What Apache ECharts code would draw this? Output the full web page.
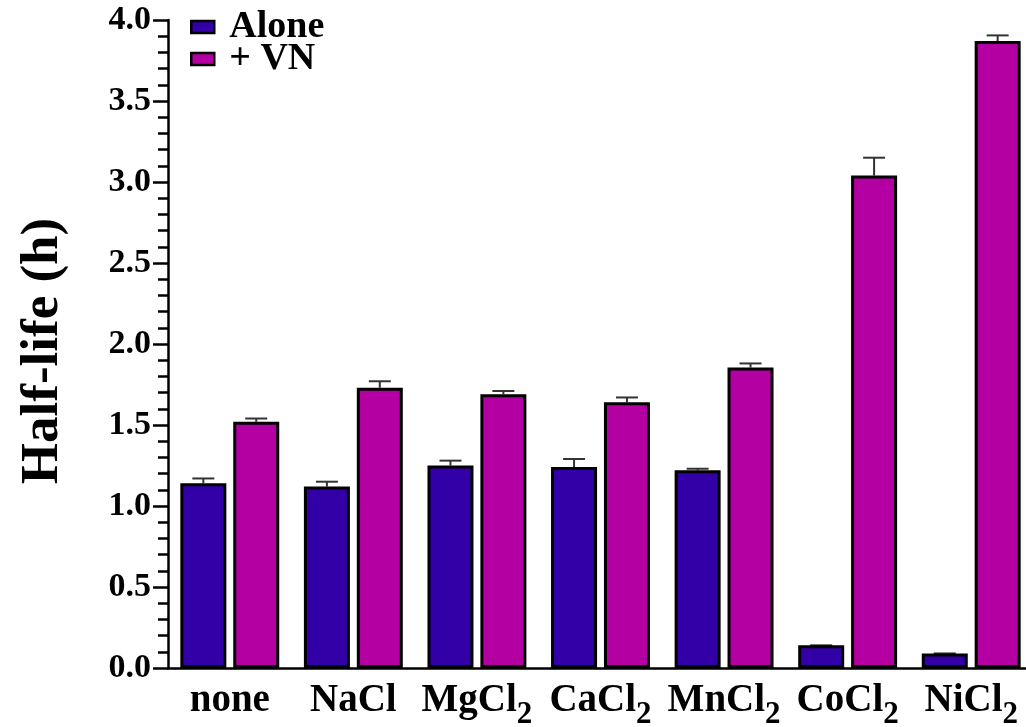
<!DOCTYPE html>
<html>
<head>
<meta charset="utf-8">
<script src="https://cdn.jsdelivr.net/npm/echarts@6/dist/echarts.min.js"></script>
<style>html,body{margin:0;padding:0;background:#fff}#c{width:1026px;height:727px}</style>
</head>
<body>
<div id="c"></div>
<script>
const categories = ['none', 'NaCl', 'MgCl2', 'CaCl2', 'MnCl2', 'CoCl2', 'NiCl2'];
const alone = [1.14, 1.12, 1.25, 1.24, 1.22, 0.14, 0.09];
const aloneErr = [0.03, 0.03, 0.03, 0.05, 0.01, 0, 0];
const vn = [1.52, 1.73, 1.69, 1.64, 1.855, 3.04, 3.87];
const vnErr = [0.02, 0.04, 0.02, 0.03, 0.025, 0.11, 0.035];
const yTicks = ['0.0', '0.5', '1.0', '1.5', '2.0', '2.5', '3.0', '3.5', '4.0'];

const FONT = '"Liberation Serif", "Times New Roman", serif';
const BAR_W = 46;
const GAP = 0.15;

const chart = echarts.init(document.getElementById('c'));

function errSeries(vals, errs, sign) {
  return {
    type: 'custom',
    z: 1,
    silent: true,
    data: vals.map((v, i) => [i, v, errs[i]]),
    encode: { x: 0, y: 1 },
    renderItem: function (params, api) {
      const off = sign * (BAR_W / 2 + BAR_W * GAP / 2);
      const base = api.coord([api.value(0), api.value(1)]);
      const top = api.coord([api.value(0), api.value(1) + api.value(2)]);
      const x = base[0] + off;
      const cap = 11;
      const st = { stroke: '#333', lineWidth: 2 };
      return {
        type: 'group',
        children: [
          { type: 'line', shape: { x1: x, y1: base[1], x2: x, y2: top[1] }, style: st },
          { type: 'line', shape: { x1: x - cap, y1: top[1], x2: x + cap, y2: top[1] }, style: st }
        ]
      };
    }
  };
}

chart.setOption({
  animation: false,
  backgroundColor: '#fff',
  grid: { left: 168, top: 20, bottom: 59, width: 865, containLabel: false, outerBoundsMode: 'none' },
  legend: {
    data: ['Alone', '+ VN'],
    orient: 'vertical',
    left: 185,
    top: 3,
    icon: 'rect',
    itemWidth: 23,
    itemHeight: 12,
    itemGap: -6,
    textStyle: { fontFamily: FONT, fontWeight: 'bold', fontSize: 38, color: '#000', padding: [0, 0, 0, 10] },
    itemStyle: { borderColor: '#000', borderWidth: 2.5 }
  },
  xAxis: {
    type: 'category',
    data: categories,
    axisLine: { lineStyle: { color: '#000', width: 2.5 } },
    axisTick: { alignWithLabel: true, length: 14, lineStyle: { color: '#000', width: 2.5 } },
    axisLabel: {
      margin: 8,
      interval: 0,
      formatter: function (v) {
        const m = v.match(/^(.*?)(\d+)$/);
        return m ? '{b|' + m[1] + '}{s|' + m[2] + '}' : '{b|' + v + '}';
      },
      rich: {
        b: { fontFamily: FONT, fontWeight: 'bold', fontSize: 39, color: '#000', lineHeight: 44, verticalAlign: 'bottom' },
        s: { fontFamily: FONT, fontWeight: 'bold', fontSize: 31, color: '#000', lineHeight: 44, verticalAlign: 'bottom', padding: [0, 0, -10, 0] }
      }
    }
  },
  yAxis: {
    type: 'value',
    min: 0,
    max: 4,
    interval: 0.5,
    name: 'Half-life (h)',
    nameLocation: 'middle',
    nameGap: 98,
    nameTextStyle: { fontFamily: FONT, fontWeight: 'bold', fontSize: 53, color: '#000', padding: [0, 14, 0, 0] },
    axisLine: { show: true, lineStyle: { color: '#000', width: 2.5 } },
    axisTick: { show: true, length: 15, lineStyle: { color: '#000', width: 2.5 } },
    minorTick: { show: true, splitNumber: 5, length: 10, lineStyle: { color: '#000', width: 2.5 } },
    splitLine: { show: false },
    axisLabel: {
      margin: 17,
      fontFamily: FONT, fontWeight: 'bold', fontSize: 34, color: '#000',
      formatter: function (v) { return yTicks[Math.round(v / 0.5)]; }
    }
  },
  series: [
    {
      name: 'Alone', type: 'bar', data: alone, barWidth: BAR_W, barGap: (GAP * 100) + '%', z: 2,
      itemStyle: { color: '#3300a8', borderColor: '#000', borderWidth: 3 }
    },
    {
      name: '+ VN', type: 'bar', data: vn, barWidth: BAR_W, z: 2,
      itemStyle: { color: '#b400a2', borderColor: '#000', borderWidth: 3 }
    },
    errSeries(alone, aloneErr, -1),
    errSeries(vn, vnErr, 1)
  ]
});
</script>
</body>
</html>
